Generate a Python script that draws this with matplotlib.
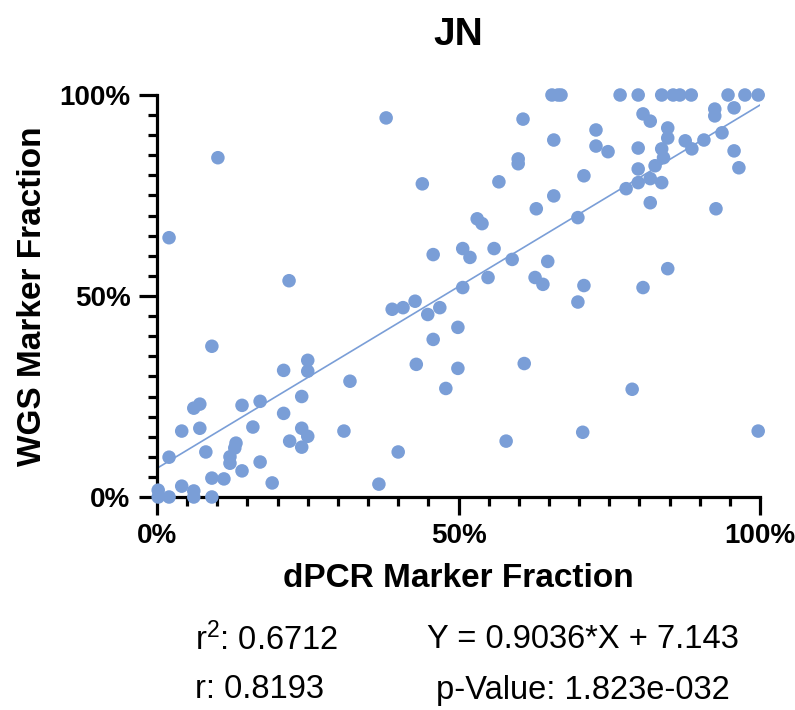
import numpy as np
import matplotlib
matplotlib.use('Agg')
import matplotlib.pyplot as plt
from matplotlib.ticker import MultipleLocator, FuncFormatter

plt.rcParams['font.family'] = ['Liberation Sans', 'DejaVu Sans']
plt.rcParams['mathtext.default'] = 'regular'

# dPCR vs WGS marker fraction (%)
x_dpcr = [65.5, 66.5, 67.0, 76.8, 79.8, 83.7, 85.6, 86.7, 88.6, 94.7, 97.5, 99.7,
          95.7, 92.5, 92.5, 80.6, 81.8, 72.8, 84.7, 84.7, 72.8, 74.8, 79.8, 83.7,
          84.0, 82.6, 79.8, 79.8, 81.8, 83.7, 77.8, 81.8, 87.6, 88.7, 90.7, 93.7,
          95.7, 96.5, 92.7, 70.8, 69.8, 84.7, 70.8, 80.6, 69.8, 78.8, 70.6, 99.7,
          38.0, 60.7, 65.8, 59.9, 59.9, 44.0, 56.7, 65.8, 62.9, 53.1, 53.9, 45.8,
          50.7, 51.9, 55.9, 58.9, 64.8, 62.7, 64.0, 54.9, 50.7, 42.8,
          10.1, 2.0, 21.9,
          9.1, 21.0, 25.0, 25.0, 32.0, 24.0, 17.1, 14.1, 6.1, 7.1, 4.1, 7.1,
          15.9, 21.0, 22.0, 24.0, 25.0, 24.0, 13.1, 12.1, 12.1, 12.9, 8.1, 14.1,
          17.1, 31.0, 2.0, 9.1, 11.1, 4.1, 19.1, 6.1, 6.1, 0.2, 0.2, 2.0, 9.1,
          39.0, 40.8, 44.9, 46.9, 49.9, 45.8, 43.0, 49.9, 47.9, 60.9, 40.0, 36.8, 57.9]
y_wgs = [100, 100, 100, 100, 100, 100, 100, 100, 100, 100, 100, 100,
         96.8, 96.5, 94.8, 95.3, 93.5, 91.3, 91.8, 89.3, 87.3, 85.9, 86.8, 86.6,
         84.4, 82.4, 81.6, 78.2, 79.2, 78.2, 76.7, 73.2, 88.6, 86.6, 88.8, 90.6,
         86.1, 81.9, 71.7, 79.9, 69.5, 56.8, 52.6, 52.1, 48.5, 26.8, 16.1, 16.4,
         94.3, 94.0, 88.8, 84.1, 82.9, 77.9, 78.4, 74.9, 71.7, 69.2, 68.0, 60.3,
         61.8, 59.6, 61.8, 59.1, 58.6, 54.6, 52.9, 54.6, 52.1, 48.7,
         84.4, 64.5, 53.8,
         37.5, 31.5, 34.0, 31.3, 28.8, 25.0, 23.8, 22.8, 22.1, 23.1, 16.4, 17.1,
         17.4, 20.8, 13.9, 17.1, 15.1, 12.4, 13.4, 10.0, 8.4, 12.2, 11.2, 6.5,
         8.7, 16.4, 9.9, 4.7, 4.5, 2.7, 3.5, 1.5, 0.0, 1.7, 0.0, 0.0, 0.0,
         46.7, 47.1, 45.4, 47.1, 42.2, 39.2, 33.0, 32.0, 27.0, 33.2, 11.2, 3.2, 13.9]

slope = 0.9036
intercept = 7.143
stats = ['r$^2$: 0.6712', 'Y = 0.9036*X + 7.143', 'r: 0.8193', 'p-Value: 1.823e-032']

W, H = 795, 710
blue = '#7A9ED7'

fig = plt.figure(figsize=(W/100, H/100), dpi=100)
ax = fig.add_axes([157/W, 1-497/H, (760-157)/W, (497-95)/H])

ax.scatter(x_dpcr, y_wgs, s=95, color=blue, edgecolors='none', clip_on=False, zorder=3)
xl = np.array([0, 100])
ax.plot(xl, slope*xl+intercept, color=blue, lw=1.2, zorder=2)

ax.set_xlim(0, 100)
ax.set_ylim(0, 100)
for s in ['top', 'right']:
    ax.spines[s].set_visible(False)
for s in ['left', 'bottom']:
    ax.spines[s].set_linewidth(2.3)

pct = FuncFormatter(lambda v, p: '%d%%' % v)
for a in [ax.xaxis, ax.yaxis]:
    a.set_major_locator(MultipleLocator(50))
    a.set_minor_locator(MultipleLocator(5))
    a.set_major_formatter(pct)
ax.tick_params(which='major', length=13, width=2.3, labelsize=20, pad=6)
ax.tick_params(which='minor', length=6.5, width=2.3)
for lab in ax.get_xticklabels() + ax.get_yticklabels():
    lab.set_fontweight('bold')

ax.set_xlabel('dPCR Marker Fraction', fontsize=24, fontweight='bold', labelpad=10)
ax.set_ylabel('WGS Marker Fraction', fontsize=24, fontweight='bold', labelpad=8)
fig.text(458/W, 1-35/H, 'JN', fontsize=28, fontweight='bold', ha='center', va='center')

fig.text(195/W, 1-640/H, stats[0], fontsize=23.5, ha='left', va='center')
fig.text(583/W, 1-640/H, stats[1], fontsize=23.5, ha='center', va='center')
fig.text(195/W, 1-690/H, stats[2], fontsize=23.5, ha='left', va='center')
fig.text(583/W, 1-690/H, stats[3], fontsize=23.5, ha='center', va='center')

fig.savefig('out.png', dpi=100)
